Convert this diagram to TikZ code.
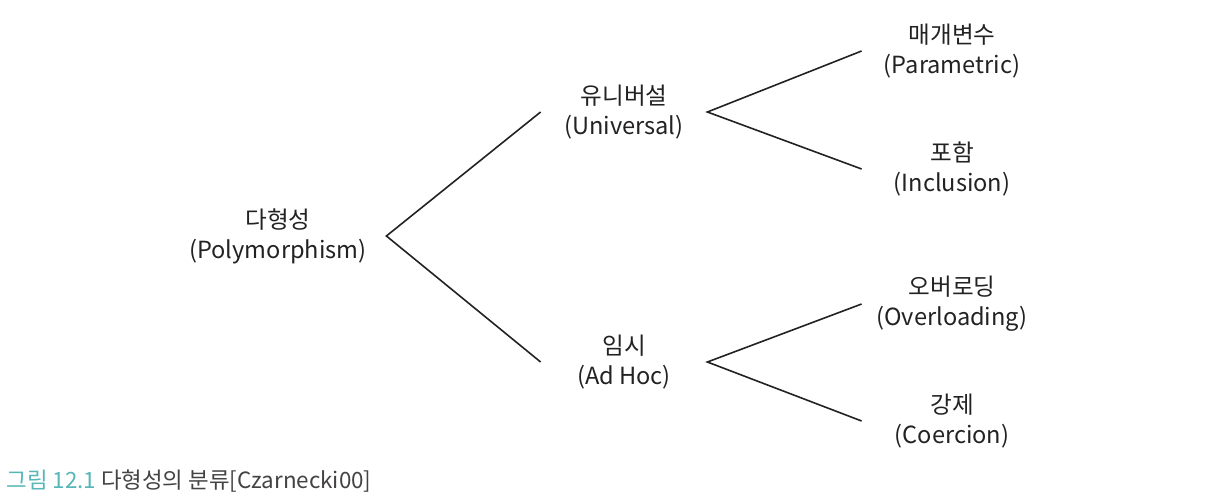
\documentclass[tikz,border=0pt]{standalone}
\usepackage{fontspec}
\setmainfont{Noto Sans CJK KR}
\usetikzlibrary{positioning, calc}
\definecolor{figteal}{RGB}{86,182,184}
\definecolor{inkgray}{RGB}{35,33,33}

\begin{document}
\begin{tikzpicture}[x=0.5pt,y=-0.5pt,font=\fontsize{11.8}{15}\selectfont,
  term/.style={align=center, text=inkgray, inner xsep=0pt, inner ysep=0pt},
  root/.style={term, minimum width=108pt},
  mid/.style={term, minimum width=83pt},
  leaf/.style={term, minimum width=90pt},
  branch/.style={draw=inkgray, line width=0.8pt}]

\useasboundingbox (0,0) rectangle (1211,498);

% --- radice
\node[root] (poly) at (278,236) {다형성\\(Polymorphism)};

% --- primo livello
\node[mid] (univ) at (624,112) {유니버설\\(Universal)};
\node[mid] (adhoc) at (624,362) {임시\\(Ad Hoc)};

% --- foglie
\node[leaf] (param) at (952,51) {매개변수\\(Parametric)};
\node[leaf] (incl) at (952,169) {포함\\(Inclusion)};
\node[leaf] (overl) at (952,304) {오버로딩\\(Overloading)};
\node[leaf] (coer) at (952,421) {강제\\(Coercion)};

% --- rami
\draw[branch] (univ.west) -- (poly.east) -- (adhoc.west);
\draw[branch] (param.west) -- (univ.east) -- (incl.west);
\draw[branch] (overl.west) -- (adhoc.east) -- (coer.west);

% --- didascalia
\node[anchor=west, inner sep=0pt, text=inkgray!85,
  font=\fontsize{11.2}{14}\selectfont] (cap) at (6,481)
  {\textcolor{figteal}{그림 12.1} 다형성의 분류[Czarnecki00]};

\end{tikzpicture}
\end{document}
